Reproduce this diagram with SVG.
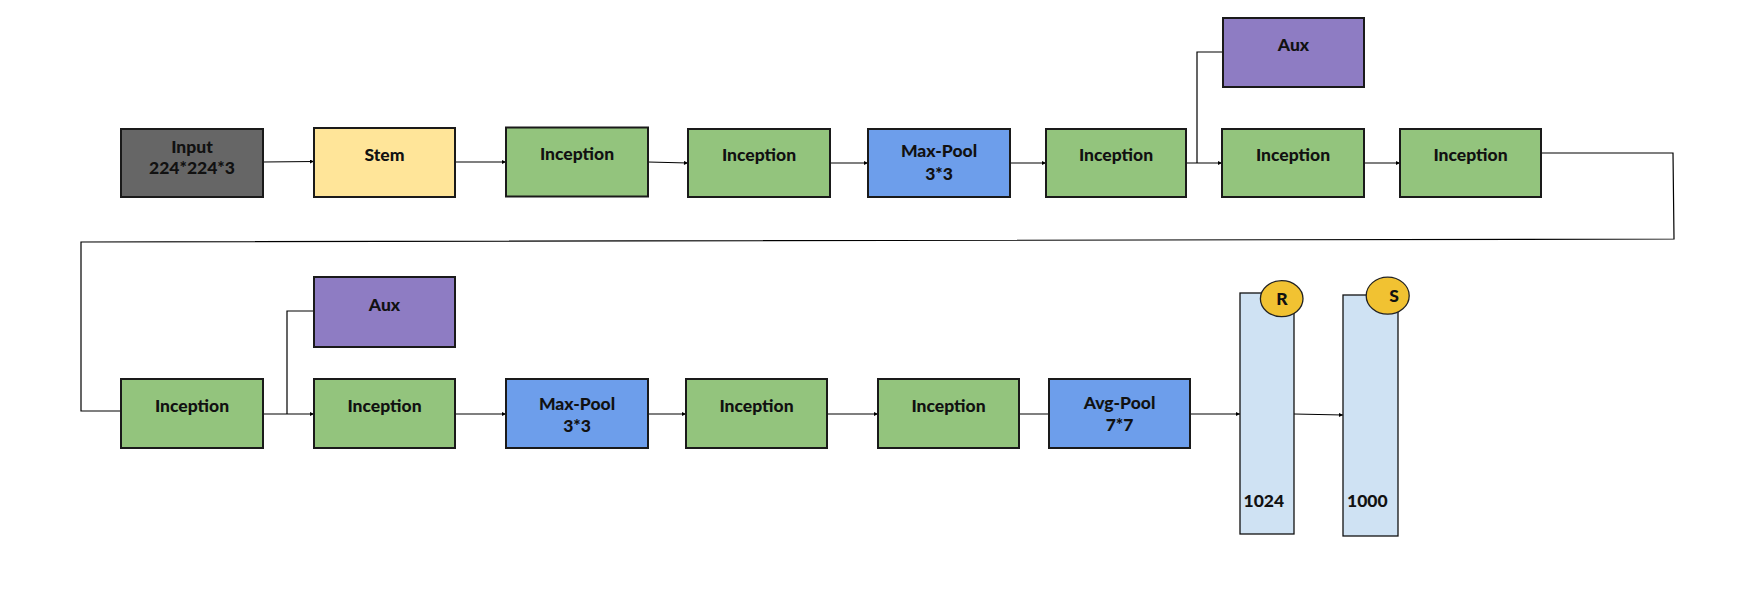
<svg xmlns="http://www.w3.org/2000/svg" width="1741" height="589" viewBox="0 0 1741 589">
<style>
.box{stroke:#1a1a1a;stroke-width:2}
.inc{fill:#93c47d}
.pool{fill:#6d9eeb}
.aux{fill:#8e7cc3}
.bar{fill:#cfe2f3;stroke:#111;stroke-width:1.3}
.circ{fill:#f1c232;stroke:#222;stroke-width:1.3}
text{font-family:Lato,"Open Sans","Liberation Sans",sans-serif;font-weight:900;font-size:17.5px;fill:#111;text-anchor:middle}
.lft{text-anchor:start}
.c{fill:none;stroke:#000;stroke-width:1.2}
</style>
<defs>
<marker id="ah" viewBox="0 0 10 10" refX="10" refY="5" markerWidth="5" markerHeight="4" markerUnits="userSpaceOnUse" orient="auto">
<path d="M0,0 L10,5 L0,10 z" fill="#000"/>
</marker>
</defs>
<rect width="1741" height="589" fill="#fff"/>
<g id="connectors">
<path class="c" d="M263,162 L314,161.5" marker-end="url(#ah)"/>
<path class="c" d="M455,162 L506,162" marker-end="url(#ah)"/>
<path class="c" d="M648,162 L688,163" marker-end="url(#ah)"/>
<path class="c" d="M830,163 L868,163" marker-end="url(#ah)"/>
<path class="c" d="M1010,163 L1046,163" marker-end="url(#ah)"/>
<path class="c" d="M1186,163 L1222,163" marker-end="url(#ah)"/>
<path class="c" d="M1197,163 L1197,52 L1223,52"/>
<path class="c" d="M1364,163 L1400,163" marker-end="url(#ah)"/>
<path class="c" d="M1541,153 L1673,153 L1674,239 L81,242 L81,411 L121,411"/>
<path class="c" d="M263,414 L314,414" marker-end="url(#ah)"/>
<path class="c" d="M287,414 L287,311 L314,311"/>
<path class="c" d="M455,414 L506,414" marker-end="url(#ah)"/>
<path class="c" d="M648,414 L686,414" marker-end="url(#ah)"/>
<path class="c" d="M827,414 L878,414" marker-end="url(#ah)"/>
<path class="c" d="M1019,414 L1054,414" marker-end="url(#ah)"/>
<path class="c" d="M1190,414 L1240,414" marker-end="url(#ah)"/>
<path class="c" d="M1294,414 L1343,415" marker-end="url(#ah)"/>
</g>
<g id="input"><rect class="box" x="121" y="129" width="142" height="68" fill="#666666"/><text x="192" y="153">Input</text><text x="192" y="174">224*224*3</text></g>
<g id="stem"><rect class="box" x="314" y="128" width="141" height="69" fill="#ffe599"/><text x="384.5" y="161">Stem</text></g>
<g id="inc1"><rect class="box inc" x="506" y="127.5" width="142" height="69"/><text x="577" y="160">Inception</text></g>
<g id="inc2"><rect class="box inc" x="688" y="129" width="142" height="68"/><text x="759" y="161">Inception</text></g>
<g id="maxpool1"><rect class="box pool" x="868" y="129" width="142" height="68"/><text x="939" y="157">Max-Pool</text><text x="939" y="180">3*3</text></g>
<g id="inc3"><rect class="box inc" x="1046" y="129" width="140" height="68"/><text x="1116" y="161">Inception</text></g>
<g id="aux1"><rect class="box aux" x="1223" y="18" width="141" height="69"/><text x="1293.5" y="51">Aux</text></g>
<g id="inc4"><rect class="box inc" x="1222" y="129" width="142" height="68"/><text x="1293" y="161">Inception</text></g>
<g id="inc5"><rect class="box inc" x="1400" y="129" width="141" height="68"/><text x="1470.5" y="161">Inception</text></g>
<g id="inc6"><rect class="box inc" x="121" y="379" width="142" height="69"/><text x="192" y="412">Inception</text></g>
<g id="aux2"><rect class="box aux" x="314" y="277" width="141" height="70"/><text x="384.5" y="311">Aux</text></g>
<g id="inc7"><rect class="box inc" x="314" y="379" width="141" height="69"/><text x="384.5" y="412">Inception</text></g>
<g id="maxpool2"><rect class="box pool" x="506" y="379" width="142" height="69"/><text x="577" y="410">Max-Pool</text><text x="577" y="432">3*3</text></g>
<g id="inc8"><rect class="box inc" x="686" y="379" width="141" height="69"/><text x="756.5" y="412">Inception</text></g>
<g id="inc9"><rect class="box inc" x="878" y="379" width="141" height="69"/><text x="948.5" y="412">Inception</text></g>
<g id="avgpool"><rect class="box pool" x="1049" y="379" width="141" height="69"/><text x="1119.5" y="409">Avg-Pool</text><text x="1119.5" y="431">7*7</text></g>
<g id="fc1024"><rect class="bar" x="1240" y="293" width="54" height="241"/><ellipse class="circ" cx="1281.7" cy="298.7" rx="21.3" ry="18"/><text x="1282" y="304.5">R</text><text class="lft" x="1243.5" y="506.5">1024</text></g>
<g id="fc1000"><rect class="bar" x="1343" y="295" width="55" height="241"/><ellipse class="circ" cx="1387.7" cy="295.7" rx="21.5" ry="18.5"/><text x="1394" y="302">S</text><text class="lft" x="1347" y="506.5">1000</text></g>
</svg>
